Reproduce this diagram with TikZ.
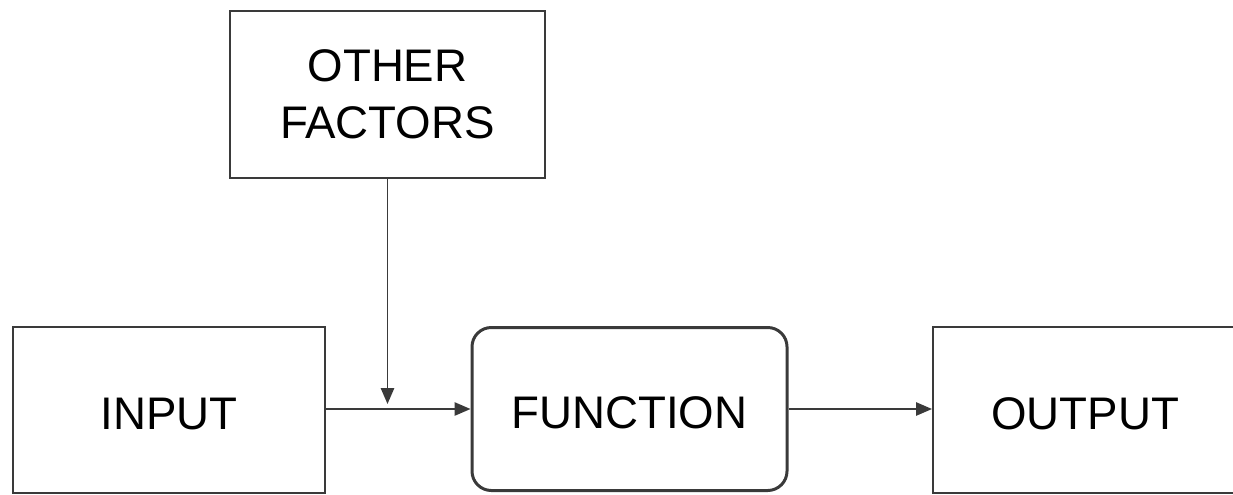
\documentclass[tikz,border=0pt]{standalone}
\usepackage{fontspec}
\setmainfont{Liberation Sans}
\usetikzlibrary{arrows.meta,positioning}
\definecolor{cline}{HTML}{3A3A3A}
\tikzset{
  block/.style={draw=cline, line width=1pt, fill=white, align=center, text=black,
    font=\fontsize{26}{32.4}\selectfont, inner sep=0pt},
  onel/.style={text height=22pt, text depth=0pt},
  funcn/.style={block, onel, rounded corners=11pt, line width=1.7pt},
  pre/.style={-{Triangle[length=9pt, width=7.5pt]}, draw=cline, line width=1pt},
}

\begin{document}
\begin{tikzpicture}[x=0.02cm, y=-0.02cm]
\useasboundingbox (0,0) rectangle (1233,494);
\node[block, onel, minimum width=312*0.02cm, minimum height=166*0.02cm] (in) at (169,410) {INPUT};
\node[block, minimum width=315*0.02cm, minimum height=167*0.02cm] (other) at (387.5,94.5) {OTHER\\FACTORS};
\node[funcn, minimum width=315*0.02cm, minimum height=163*0.02cm] (func) at (629.5,409) {FUNCTION};
\node[block, onel, minimum width=308*0.02cm, minimum height=166*0.02cm, anchor=west] (out) at (932,410) {\hspace*{-2pt}OUTPUT};
\coordinate (join) at (387.5,404);
\draw[pre] (other.south) -- (join);
\draw[pre] (in.east |- func.west) -- (func.west);
\draw[pre] (func.east) -- (func.east -| out.west);
\end{tikzpicture}
\end{document}
